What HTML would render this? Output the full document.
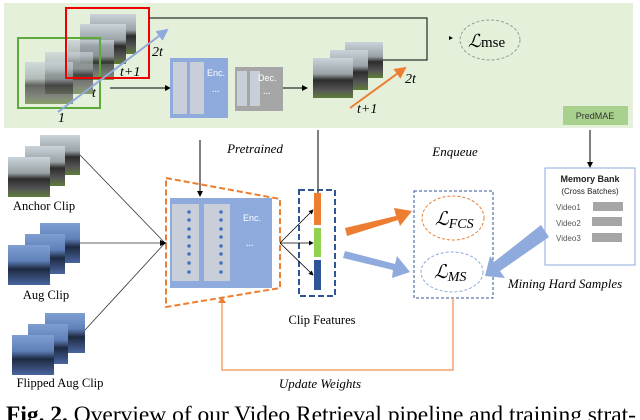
<!DOCTYPE html>
<html><head><meta charset="utf-8"><style>body{margin:0;background:#fff}svg{display:block}</style></head><body>
<svg width="640" height="420" viewBox="0 0 640 420" xmlns="http://www.w3.org/2000/svg" font-family="Liberation Serif, serif">
<defs>
<linearGradient id="ph" x1="0" y1="0" x2="0" y2="1"><stop offset="0" stop-color="#c9d3da"/><stop offset="0.4" stop-color="#9aa3a6"/><stop offset="0.55" stop-color="#2c2c2c"/><stop offset="0.8" stop-color="#555"/><stop offset="1" stop-color="#5f7d3a"/></linearGradient>
<linearGradient id="pb" x1="0" y1="0" x2="0" y2="1"><stop offset="0" stop-color="#7f9fd3"/><stop offset="0.4" stop-color="#5f7fb8"/><stop offset="0.6" stop-color="#1d2a40"/><stop offset="1" stop-color="#4a66a0"/></linearGradient>
<marker id="a" markerWidth="6" markerHeight="6" refX="5" refY="3" orient="auto"><path d="M0,0L6,3L0,6z" fill="#000"/></marker>
<marker id="ao" markerWidth="6" markerHeight="6" refX="5" refY="3" orient="auto"><path d="M0,0L6,3L0,6z" fill="#ed7d31"/></marker>
<marker id="ab" markerWidth="6" markerHeight="6" refX="5" refY="3" orient="auto"><path d="M0,0L6,3L0,6z" fill="#8faadc"/></marker>
</defs>
<rect x="4" y="3" width="629" height="125" fill="#e5f0db"/>
<rect x="90" y="14" width="46" height="40" fill="url(#ph)"/>
<rect x="80" y="24" width="46" height="40" fill="url(#ph)"/>
<rect x="68" y="40" width="46" height="40" fill="url(#ph)" opacity="0.8"/>
<rect x="45" y="52" width="48" height="42" fill="url(#ph)" opacity="0.7"/>
<rect x="25" y="62" width="48" height="42" fill="url(#ph)" opacity="0.7"/>
<rect x="18" y="38" width="82" height="70" fill="none" stroke="#5daa3c" stroke-width="2"/>
<rect x="66" y="8" width="83" height="70" fill="none" stroke="#e00" stroke-width="2"/>
<line x1="58" y1="112" x2="167" y2="30" stroke="#8faadc" stroke-width="2" marker-end="url(#ab)"/>
<g font-style="italic" font-size="14"><text x="152" y="56">2t</text><text x="120" y="76">t+1</text><text x="92" y="97">t</text><text x="58" y="122">1</text></g>
<polyline points="149,18 427,18 427,60 383,60" fill="none" stroke="#000" stroke-width="1"/>
<path d="M449,36L453,38L449,40z" fill="#000"/>
<ellipse cx="490" cy="40" rx="30" ry="20" fill="none" stroke="#999" stroke-dasharray="3,2"/>
<text x="468" y="47" font-size="18" font-style="italic">ℒ<tspan font-style="normal" font-size="15">mse</tspan></text>
<line x1="110" y1="88" x2="170" y2="88" stroke="#000" marker-end="url(#a)"/>
<rect x="170" y="58" width="58" height="60" fill="#8faadc"/>
<rect x="173" y="62" width="14" height="52" fill="#c8cfd8"/><rect x="190" y="62" width="14" height="52" fill="#c8cfd8"/>
<text x="207" y="76" font-family="Liberation Sans, sans-serif" font-size="9" fill="#fff">Enc.</text><text x="212" y="92" font-size="10" fill="#fff">...</text>
<rect x="235" y="67" width="48" height="44" fill="#a6a6a6"/>
<rect x="237" y="71" width="10" height="35" fill="#c8cfd8"/><rect x="250" y="71" width="10" height="35" fill="#c8cfd8"/>
<text x="258" y="81" font-family="Liberation Sans, sans-serif" font-size="9" fill="#fff">Dec.</text><text x="263" y="94" font-size="10" fill="#fff">...</text>
<line x1="283" y1="88" x2="307" y2="88" stroke="#000" marker-end="url(#a)"/>
<rect x="345" y="42" width="38" height="36" fill="url(#ph)"/>
<rect x="330" y="50" width="38" height="40" fill="url(#ph)"/>
<rect x="313" y="58" width="40" height="40" fill="url(#ph)"/>
<line x1="350" y1="108" x2="405" y2="68" stroke="#ed7d31" stroke-width="2" marker-end="url(#ao)"/>
<g font-style="italic" font-size="14"><text x="357" y="113">t+1</text><text x="405" y="83">2t</text></g>
<rect x="563" y="106" width="65" height="19" fill="#a9d18e"/>
<text x="595" y="119" text-anchor="middle" font-family="Liberation Sans, sans-serif" font-size="9" fill="#333">PredMAE</text>
<rect x="40" y="135" width="40" height="40" fill="url(#ph)"/><rect x="25" y="146" width="40" height="40" fill="url(#ph)"/><rect x="8" y="157" width="42" height="40" fill="url(#ph)"/>
<rect x="40" y="223" width="40" height="40" fill="url(#pb)"/><rect x="25" y="234" width="40" height="40" fill="url(#pb)"/><rect x="8" y="245" width="42" height="40" fill="url(#pb)"/>
<rect x="45" y="313" width="40" height="40" fill="url(#pb)"/><rect x="28" y="324" width="40" height="40" fill="url(#pb)"/><rect x="12" y="335" width="42" height="40" fill="url(#pb)"/>
<g font-size="12.5" text-anchor="middle"><text x="44" y="210">Anchor Clip</text><text x="46" y="299">Aug Clip</text><text x="60" y="387">Flipped Aug Clip</text><text x="322" y="324">Clip Features</text></g>
<g stroke="#333" stroke-width="0.8"><line x1="80" y1="155" x2="165" y2="243"/><line x1="80" y1="243" x2="165" y2="243"/><line x1="85" y1="330" x2="165" y2="243"/></g>
<path d="M160,240L167,243L160,246z" fill="#000"/>
<text x="255" y="153" text-anchor="middle" font-style="italic" font-size="13">Pretrained</text>
<line x1="200" y1="140" x2="200" y2="196" stroke="#000" marker-end="url(#a)"/>
<polygon points="166,178 280,199 280,288 166,307" fill="none" stroke="#ed7d31" stroke-width="2" stroke-dasharray="6,3"/>
<rect x="170" y="198" width="102" height="90" fill="#8faadc"/>
<rect x="172" y="204" width="27" height="77" fill="#c8cfd8"/><rect x="204" y="204" width="26" height="77" fill="#c8cfd8"/>
<g fill="#4472c4"><circle cx="189" cy="212" r="1.8"/><circle cx="189" cy="220" r="1.8"/><circle cx="189" cy="229" r="1.8"/><circle cx="189" cy="237" r="1.8"/><circle cx="189" cy="246" r="1.8"/><circle cx="189" cy="254" r="1.8"/><circle cx="189" cy="263" r="1.8"/><circle cx="189" cy="272" r="1.8"/><circle cx="221" cy="212" r="1.8"/><circle cx="221" cy="220" r="1.8"/><circle cx="221" cy="229" r="1.8"/><circle cx="221" cy="237" r="1.8"/><circle cx="221" cy="246" r="1.8"/><circle cx="221" cy="254" r="1.8"/><circle cx="221" cy="263" r="1.8"/><circle cx="221" cy="272" r="1.8"/></g>
<text x="243" y="221" font-family="Liberation Sans, sans-serif" font-size="9" fill="#fff">Enc.</text><text x="246" y="246" font-size="10" fill="#fff">...</text>
<line x1="318" y1="130" x2="318" y2="193" stroke="#000"/>
<rect x="299" y="190" width="36" height="106" fill="none" stroke="#2f5597" stroke-width="2" stroke-dasharray="6,3"/>
<rect x="314" y="193" width="7" height="32" fill="#ed7d31"/><rect x="314" y="228" width="7" height="29" fill="#92d050"/><rect x="314" y="260" width="7" height="30" fill="#2f5597"/>
<g stroke="#000" stroke-width="0.8"><line x1="280" y1="243" x2="313" y2="210" marker-end="url(#a)"/><line x1="280" y1="243" x2="313" y2="243" marker-end="url(#a)"/><line x1="280" y1="243" x2="313" y2="275" marker-end="url(#a)"/></g>
<polygon points="345,228 396,216 394,208 412,211 400,226 398,220 347,236" fill="#ed7d31"/>
<polygon points="345,251 395,264 397,256 410,272 392,278 393,270 343,258" fill="#8faadc"/>
<text x="455" y="156" text-anchor="middle" font-style="italic" font-size="13">Enqueue</text>
<rect x="414" y="191" width="79" height="107" fill="none" stroke="#2f5597" stroke-dasharray="3,2"/>
<ellipse cx="453" cy="218" rx="31" ry="22" fill="none" stroke="#ed7d31" stroke-dasharray="3,2"/>
<ellipse cx="452" cy="272" rx="31" ry="20" fill="none" stroke="#8faadc" stroke-dasharray="3,2"/>
<text x="435" y="225" font-size="19" font-style="italic">ℒ<tspan font-size="14" dy="3">FCS</tspan></text>
<text x="434" y="278" font-size="19" font-style="italic">ℒ<tspan font-size="14" dy="3">MS</tspan></text>
<line x1="590" y1="130" x2="590" y2="167" stroke="#000" marker-end="url(#a)"/>
<rect x="545" y="168" width="90" height="97" fill="#fff" stroke="#8faadc"/>
<g font-family="Liberation Sans, sans-serif" fill="#222"><text x="590" y="182" text-anchor="middle" font-size="9" font-weight="bold">Memory Bank</text><text x="590" y="194" text-anchor="middle" font-size="8">(Cross Batches)</text>
<text x="556" y="210" font-size="8" fill="#555">Video1</text><text x="556" y="226" font-size="8" fill="#555">Video2</text><text x="556" y="241" font-size="8" fill="#555">Video3</text></g>
<rect x="593" y="202" width="30" height="9" fill="#a6a6a6"/><rect x="592" y="217" width="30" height="9" fill="#a6a6a6"/><rect x="592" y="233" width="30" height="9" fill="#a6a6a6"/>
<polygon points="541,225 549,237 500,271 505,278 485,276 490,256 494,262" fill="#8faadc"/>
<text x="565" y="288" text-anchor="middle" font-style="italic" font-size="13">Mining Hard Samples</text>
<polyline points="453,298 453,370 222,370 222,302" fill="none" stroke="#f4a36b" stroke-width="1.5"/>
<path d="M218,303L222,297L226,303z" fill="#ed7d31"/>
<text x="320" y="388" text-anchor="middle" font-style="italic" font-size="13">Update Weights</text>
<text x="6" y="422" font-size="23" textLength="630" lengthAdjust="spacingAndGlyphs"><tspan font-weight="bold">Fig. 2.</tspan> Overview of our Video Retrieval pipeline and training strat-</text>
</svg>
</body></html>
